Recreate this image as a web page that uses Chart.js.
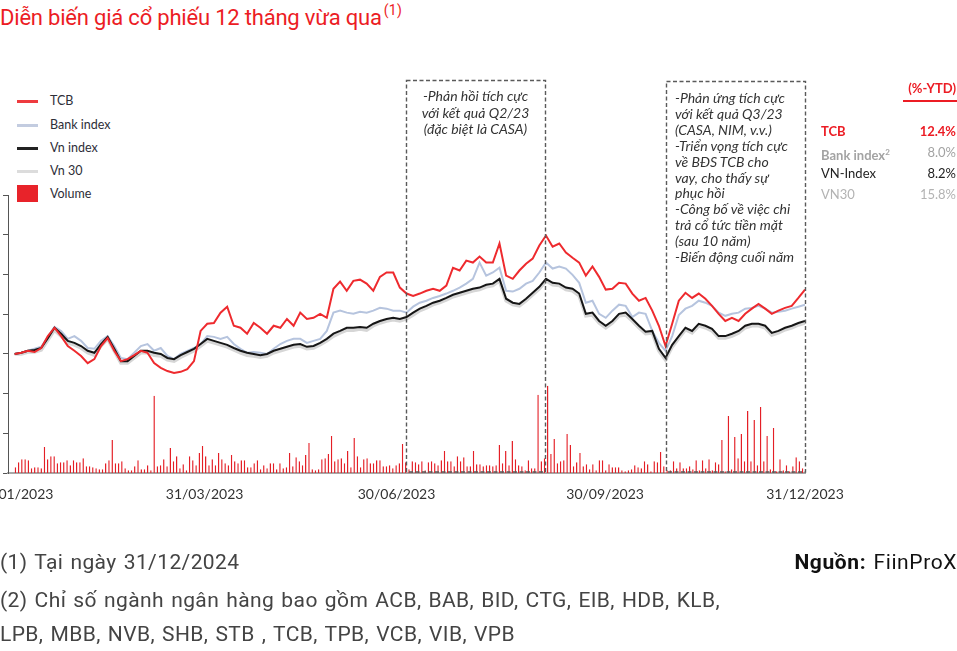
<!DOCTYPE html>
<html lang="vi">
<head>
<meta charset="utf-8">
<title>Diễn biến giá cổ phiếu 12 tháng vừa qua</title>
<script src="https://cdn.jsdelivr.net/npm/chart.js@4.4.1/dist/chart.umd.min.js"></script>
<style>
  html, body { margin: 0; padding: 0; background: #fff; }
  body { width: 957px; height: 651px; position: relative; overflow: hidden;
         font-family: Lato, 'Noto Sans', sans-serif; color: #333; }
  #wrap { position: absolute; left: -40px; top: 185px; width: 900px; height: 336px; }
  .abs { position: absolute; white-space: nowrap; }
  .title { left: 0; top: 4px; font-family: Roboto, sans-serif; font-size: 22px; letter-spacing: -0.2px; color: #ec1c24; }
  .title sup { font-size: 14px; letter-spacing: 0.3px; position: relative; top: -2px; margin-left: 2px; }
  .leg { left: 50px; font-size: 12.5px; color: #2e2e38; line-height: 16px; }
  .sw  { position: absolute; left: 17px; width: 21px; height: 2.5px; }
  .note { font-style: italic; font-size: 14px; color: #333; line-height: 16.5px; }
  .ytd { font-size: 13px; line-height: 16px; }
  .foot { font-family: Roboto, sans-serif; font-size: 21px; letter-spacing: 0.4px; word-spacing: 1.5px;
          color: #444; left: 0; line-height: 24px; }
  svg { position: absolute; left: 0; top: 0; pointer-events: none; }
</style>
</head>
<body>

<div class="abs title">Diễn biến giá cổ phiếu 12 tháng vừa qua<sup>(1)</sup></div>

<!-- chú giải -->
<div class="sw" style="top:100px;background:#ee3b3f"></div>
<div class="abs leg" style="top:93px">TCB</div>
<div class="sw" style="top:124px;background:#c3cce0"></div>
<div class="abs leg" style="top:117px">Bank index</div>
<div class="sw" style="top:147px;background:#222"></div>
<div class="abs leg" style="top:140px">Vn index</div>
<div class="sw" style="top:170px;background:#dcdcdc"></div>
<div class="abs leg" style="top:163px">Vn 30</div>
<div class="sw" style="top:185px;height:17px;background:#e8232a"></div>
<div class="abs leg" style="top:186px">Volume</div>

<div id="wrap"><canvas id="c" width="900" height="336" style="width:900px;height:336px"></canvas></div>

<!-- khung chú thích -->
<svg width="957" height="651">
  <g fill="none" stroke="#5a5a5a" stroke-width="1.4" stroke-dasharray="4 2.5">
    <rect x="406.5" y="80.5" width="139" height="391.5"></rect>
    <rect x="666.5" y="81.5" width="139" height="390.5"></rect>
  </g>
</svg>

<div class="abs note" style="left:406px;width:139px;top:88px;text-align:center">-Phản hồi tích cực<br>với kết quả Q2/23<br>(đặc biệt là CASA)</div>
<div class="abs note" style="left:675px;top:90px;line-height:15.9px">-Phản ứng tích cực<br>với kết quả Q3/23<br>(CASA, NIM, v.v.)<br>-Triển vọng tích cực<br>về BĐS TCB cho<br>vay, cho thấy sự<br>phục hồi<br>-Công bố về việc chi<br>trả cổ tức tiền mặt<br>(sau 10 năm)<br>-Biến động cuối năm</div>

<!-- bảng %-YTD -->
<div class="abs ytd" style="right:1px;top:80px;font-weight:700;color:#ec1c24">(%-YTD)</div>
<div class="abs" style="left:903px;top:100px;width:54px;height:1.5px;background:#ec1c24"></div>
<div class="abs ytd" style="left:821px;top:123px;font-weight:700;color:#ec1c24">TCB</div>
<div class="abs ytd" style="right:1px;top:123px;font-weight:700;color:#ec1c24">12.4%</div>
<div class="abs ytd" style="left:821px;top:144px;font-weight:700;color:#a3a3a3">Bank index<sup style="font-size:8px">2</sup></div>
<div class="abs ytd" style="right:1px;top:144px;color:#a3a3a3">8.0%</div>
<div class="abs ytd" style="left:821px;top:165px;color:#222">VN-Index</div>
<div class="abs ytd" style="right:1px;top:165px;color:#222">8.2%</div>
<div class="abs ytd" style="left:821px;top:186px;color:#b3b3b3">VN30</div>
<div class="abs ytd" style="right:1px;top:186px;color:#b3b3b3">15.8%</div>

<!-- ghi chú -->
<div class="abs foot" style="top:550px">(1) Tại ngày 31/12/2024</div>
<div class="abs foot" style="top:588px">(2) Chỉ số ngành ngân hàng bao gồm ACB, BAB, BID, CTG, EIB, HDB, KLB,</div>
<div class="abs foot" style="top:622px">LPB, MBB, NVB, SHB, STB , TCB, TPB, VCB, VIB, VPB</div>
<div class="abs foot" style="left:auto;right:0;top:550px;color:#111;letter-spacing:0.6px"><b>Nguồn:</b> FiinProX</div>

<script>
// % thay đổi so với đầu năm, mỗi điểm ~2 phiên
const tcb = [
  0, 0.3, 0.8, 0.5, 1.5, 4.5, 6.6, 4.5, 2.0, 0.8,
  -0.5, -2.3, -1.3, 2.0, 4.0, 0.8, -1.8, -1.3, -0.3, 0.8,
  0.3, -2.3, -3.5, -4.3, -4.8, -4.5, -3.8, -1.8, 5.8, 7.6,
  7.8, 10.4, 11.9, 7.1, 6.6, 5.1, 7.8, 6.6, 5.1, 7.1,
  6.6, 8.8, 7.1, 10.4, 8.8, 9.1, 10.1, 9.1, 16.4, 18.2,
  15.9, 18.4, 18.7, 17.7, 15.9, 19.4, 20.5, 20.5, 16.7, 15.2,
  14.6, 15.2, 15.9, 16.4, 15.9, 17.2, 21.7, 21.0, 23.5, 23.0,
  24.5, 23.0, 23.0, 27.8, 19.7, 18.9, 21.0, 22.7, 24.0, 27.3,
  29.8, 27.0, 27.8, 25.5, 24.2, 23.0, 19.7, 22.0, 19.4, 16.2,
  16.4, 17.9, 17.7, 15.2, 13.4, 14.1, 10.9, 7.1, 2.0, 7.6,
  13.4, 15.4, 14.1, 15.2, 13.9, 12.1, 10.1, 8.3, 9.1, 8.3,
  10.1, 11.4, 12.6, 11.4, 10.1, 10.9, 11.6, 12.1, 14.1, 16.2
];
const bankIndex = [
  0, 0.3, 0.8, 1.3, 1.8, 4.3, 6.8, 5.8, 3.8, 4.5,
  3.3, 1.5, 1.3, 3.3, 4.5, 2.0, -1.0, -1.3, 0.3, 2.0,
  2.5, 0.8, 1.5, -0.5, -1.3, 0, 0.8, 1.5, 2.5, 4.5,
  4.3, 3.8, 4.3, 2.5, 1.3, 0.3, 0.5, 0.3, 0, 1.3,
  2.5, 3.3, 3.8, 3.8, 2.8, 3.3, 3.8, 5.8, 10.4, 10.9,
  10.4, 10.1, 10.6, 10.4, 10.9, 11.6, 11.4, 10.9, 10.9, 10.4,
  11.9, 12.9, 13.4, 14.1, 14.6, 15.2, 15.9, 16.7, 17.7, 18.9,
  23.0, 19.7, 20.5, 21.7, 15.9, 15.7, 16.4, 17.7, 18.4, 20.5,
  23.0, 21.5, 22.0, 21.5, 19.9, 17.9, 12.9, 13.4, 10.1, 9.1,
  10.9, 12.4, 12.1, 9.3, 10.4, 10.1, 5.8, 2.8, 0.8, 4.5,
  9.8, 11.4, 12.1, 13.4, 12.9, 12.1, 10.4, 9.6, 10.1, 10.4,
  11.4, 11.6, 12.1, 11.4, 10.4, 10.6, 10.9, 11.4, 11.9, 12.4
];
const vnIndex = [
  0, 0.3, 0.8, 1.0, 1.5, 4.0, 6.6, 5.1, 3.3, 2.8,
  2.0, 0.8, 0.3, 2.5, 4.3, 1.3, -1.8, -1.8, -0.5, 0.8,
  0.8, 0.3, 0, -1.0, -1.3, -0.3, 0.5, 1.3, 2.5, 3.8,
  3.3, 2.8, 2.3, 1.5, 0.8, 0.3, 0, -0.3, 0, 0.8,
  1.3, 1.8, 2.3, 2.5, 1.8, 2.0, 2.8, 3.8, 5.1, 5.8,
  6.6, 6.6, 6.8, 6.6, 7.6, 8.3, 8.8, 9.1, 8.8, 9.3,
  10.4, 11.4, 12.1, 12.9, 13.4, 14.1, 14.9, 15.4, 15.9, 16.4,
  16.7, 17.4, 17.7, 18.9, 13.9, 12.9, 12.6, 13.9, 15.4, 16.9,
  18.9, 17.9, 17.7, 16.7, 16.4, 15.2, 10.1, 10.4, 8.3, 7.1,
  8.3, 10.1, 10.4, 8.8, 7.1, 5.6, 5.8, 1.3, -1.0, 2.3,
  4.5, 6.6, 5.8, 7.6, 7.1, 6.3, 4.5, 4.5, 5.1, 5.8,
  7.1, 7.6, 7.6, 7.1, 5.3, 5.8, 6.6, 7.1, 7.8, 8.3
];
const vn30 = [
  0, 0, 0.5, 0.5, 1.0, 3.5, 6.0, 4.5, 2.8, 2.3,
  1.5, 0.3, -0.3, 2.0, 3.8, 0.8, -2.3, -2.3, -1.0, 0.3,
  0.3, -0.3, -0.5, -1.5, -1.8, -0.8, 0, 0.8, 2.0, 3.3,
  2.8, 2.3, 1.8, 1.0, 0.3, -0.3, -0.5, -0.8, -0.5, 0.3,
  0.8, 1.3, 1.8, 2.0, 1.3, 1.5, 2.3, 3.3, 4.5, 5.3,
  6.0, 6.0, 6.3, 6.0, 7.1, 7.8, 8.3, 8.6, 8.3, 8.8,
  9.8, 10.9, 11.6, 12.4, 12.9, 13.6, 14.4, 14.9, 15.4, 15.9,
  16.2, 16.9, 17.2, 18.4, 13.4, 12.4, 12.1, 13.4, 14.9, 16.4,
  18.4, 17.4, 17.2, 16.2, 15.9, 14.6, 9.6, 9.8, 7.8, 6.6,
  7.8, 9.6, 9.8, 8.3, 6.6, 5.1, 5.3, 0.8, -1.5, 1.8,
  4.0, 6.1, 5.3, 7.1, 6.6, 5.8, 4.0, 4.0, 4.5, 5.3,
  6.6, 7.1, 7.1, 6.6, 4.8, 5.3, 6.1, 6.6, 7.3, 7.8
];
// khối lượng giao dịch TCB theo phiên (triệu cp)
const volume = [
  3, 5.5, 7, 7, 6.5, 2.5, 3, 3, 2.5, 13,
  7, 8.5, 8.5, 5, 5.5, 5.5, 6.5, 4, 6.5, 5.5,
  5.5, 7.5, 3.5, 3.5, 3, 2.5, 2, 2, 5, 6.5,
  16.5, 5, 5, 6, 2.5, 1.5, 1.5, 3.5, 6.5, 2,
  2, 4, 1.5, 38.5, 3.5, 4, 7, 3.5, 12.5, 6,
  8.5, 2.5, 4.5, 1.5, 8.5, 6.5, 4, 10, 13.5, 8.5,
  4, 7, 4, 10, 7, 5, 4, 9, 6, 5,
  6.5, 6.5, 3, 3, 5, 6.5, 2, 4, 2.5, 5,
  5, 2, 5, 2.5, 3, 10, 3.5, 8, 6, 4,
  9, 15, 2, 1.5, 2, 7, 7.5, 9.5, 18.5, 6,
  7, 7.5, 5, 11, 3, 17.5, 8.5, 3, 7, 7.5,
  5, 5, 6.5, 6.5, 3.5, 3.5, 4, 2.5, 4, 5,
  14.5, 5.5, 2, 6, 5.5,
  4.5, 6, 1.5, 5.5, 6, 5, 4, 6.5, 11, 6,
  6, 3.5, 8.5, 6, 8, 3.5, 3.5, 11, 4.5, 4.5,
  3.5, 4, 4, 3.5, 4, 14, 5, 11, 4, 16,
  7, 4, 3.5, 1.5, 6.5, 2.5, 2.5, 39, 6, 7.5,
  43.5, 9.5, 17, 5, 6, 6.5, 19.5, 14, 3.5, 5.5,
  10, 3.5, 4.5, 2, 4.5, 1.5, 6.5, 6.5, 1.5, 4.5,
  3, 3, 3, 1.5, 1, 1.5, 2, 4, 3, 2.5,
  6, 4.5, 1, 6, 5.5, 10.5, 3.5, 1.5, 1.5, 6,
  2.5, 5.5, 2.5, 2.5, 3.5, 2, 6.5, 1.5, 6.5, 2.5,
  7, 1.5, 5.5, 4.5, 16.5, 1, 28.5, 2, 18, 7.5,
  19.5, 6, 31, 6, 26.5, 4, 33, 6, 18.5, 2,
  22.5, 1, 7, 1.5, 4, 1, 3.5, 8, 6, 2.5
];
// nhãn trục X (vị trí theo chỉ số điểm của các đường giá)
const xTickAt   = [0, 28.6, 57.5, 88.9, 119];
const xTickText = ['03/01/2023', '31/03/2023', '30/06/2023', '30/09/2023', '31/12/2023'];

const pts = arr => arr.map((v, i) => ({ x: i, y: v }));

function lineDs(label, data, color, width, order) {
  return {
    type: 'line', label, data: pts(data),
    borderColor: color, borderWidth: width,
    pointRadius: 0, tension: 0,
    xAxisID: 'x', yAxisID: 'y', order
  };
}

new Chart(document.getElementById('c'), {
  type: 'line',
  data: {
    datasets: [
      lineDs('TCB', tcb, '#ee2a2e', 2, 1),
      lineDs('Vn index', vnIndex, '#161616', 2, 2),
      lineDs('Bank index', bankIndex, '#b6c4de', 2, 3),
      lineDs('Vn 30', vn30, '#d6d6d6', 3.5, 4),
      {
        type: 'bar', label: 'Volume', data: pts(volume),
        backgroundColor: 'rgba(238,70,74,0.9)', borderColor: '#e41f26', borderWidth: 1,
        barPercentage: 0.92, categoryPercentage: 1,
        xAxisID: 'xv', yAxisID: 'yv', order: 5
      }
    ]
  },
  options: {
    responsive: false,
    animation: false,
    layout: { padding: { left: 43, right: 55, top: 10, bottom: 5 } },
    plugins: { legend: { display: false }, tooltip: { enabled: false } },
    scales: {
      x: {
        type: 'linear', min: -1, max: 119,
        grid: { display: false, drawTicks: false },
        border: { display: true, color: '#a8a8a8', width: 2 },
        afterBuildTicks: s => { s.ticks = xTickAt.map(v => ({ value: v })); },
        ticks: {
          autoSkip: false, maxRotation: 0, padding: 13, color: '#333',
          font: { family: 'Lato', size: 14 },
          callback: (v, i) => xTickText[i]
        }
      },
      xv: { type: 'linear', min: -2.05, max: 245, offset: false, grid: { offset: false }, display: false },
      y: {
        type: 'linear', min: -30, max: 40, position: 'left',
        ticks: { display: false, stepSize: 10 },
        grid: { drawOnChartArea: false, drawTicks: true, tickLength: 5, color: '#555' },
        border: { display: true, color: '#555', width: 1 }
      },
      yv: { type: 'linear', min: 0, max: 138.5, display: false }
    }
  }
});
</script>
</body>
</html>
